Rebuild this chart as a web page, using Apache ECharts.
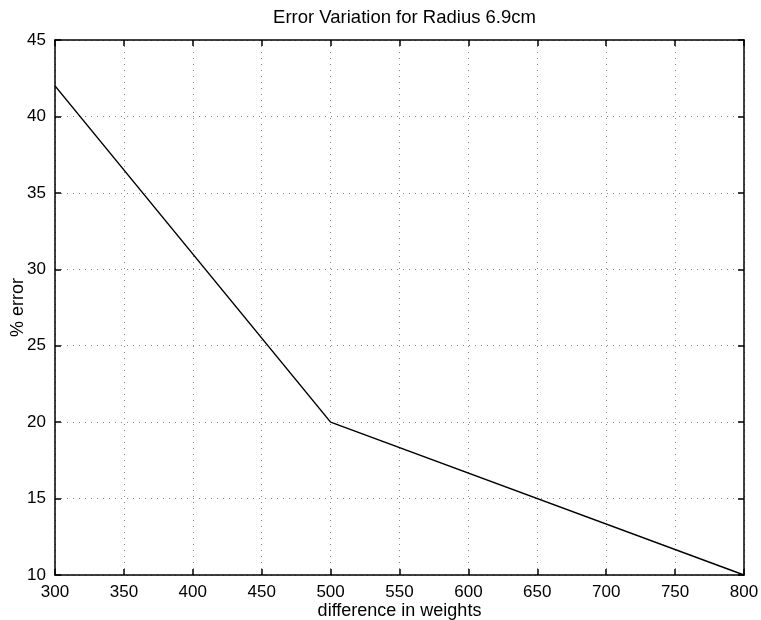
<!DOCTYPE html>
<html>
<head>
<meta charset="utf-8">
<script src="https://cdn.jsdelivr.net/npm/echarts@6/dist/echarts.min.js"></script>
<style>
  html, body { margin: 0; padding: 0; background: #fff; }
  #chart { width: 761px; height: 620px; }
</style>
</head>
<body>
<div id="chart"></div>
<script>
// Error vs weight difference
const weightDiff = [300, 500, 800];
const percentError = [42, 20, 10];
const xTicks = [300, 350, 400, 450, 500, 550, 600, 650, 700, 750, 800];
const yTicks = [10, 15, 20, 25, 30, 35, 40, 45];

const FONT = 'Liberation Sans, Arial, Helvetica, sans-serif';
const chart = echarts.init(document.getElementById('chart'));

const xMin = xTicks[0], xMax = xTicks[xTicks.length - 1];
const yMin = yTicks[0], yMax = yTicks[yTicks.length - 1];

const GRID = { left: 55, right: 17, top: 40, bottom: 45 };
const plotCenterX = GRID.left + (761 - GRID.left - GRID.right) / 2;

const boxAxis = {
  axisLine: { show: true, onZero: false, lineStyle: { color: '#000', width: 1.5 } },
  axisTick: { show: true, inside: true, length: 6, lineStyle: { color: '#000', width: 1.5 } },
};

chart.setOption({
  animation: false,
  backgroundColor: '#fff',
  title: {
    text: 'Error Variation for Radius 6.9cm',
    left: plotCenterX,
    textAlign: 'center',
    top: 3,
    textStyle: { fontFamily: FONT, fontSize: 18.5, fontWeight: 'normal', color: '#000' }
  },
  grid: Object.assign({ containLabel: false, outerBoundsMode: 'none' }, GRID),
  xAxis: [
    Object.assign({
      type: 'value', min: xMin, max: xMax, interval: 50, position: 'bottom',
      name: 'difference in weights', nameLocation: 'middle', nameGap: 27, nameMoveOverlap: false,
      nameTextStyle: { fontFamily: FONT, fontSize: 18, color: '#000' },
      axisLabel: { fontFamily: FONT, fontSize: 17, color: '#000', margin: 9 },
      splitLine: { show: true, lineStyle: { color: '#888', type: [1, 5], width: 1 } }
    }, boxAxis),
    Object.assign({
      type: 'value', min: xMin, max: xMax, interval: 50, position: 'top',
      axisLabel: { show: false }, splitLine: { show: false }
    }, boxAxis)
  ],
  yAxis: [
    Object.assign({
      type: 'value', min: yMin, max: yMax, interval: 5, position: 'left',
      name: '% error', nameLocation: 'middle', nameGap: 28, nameRotate: 90, nameMoveOverlap: false,
      nameTextStyle: { fontFamily: FONT, fontSize: 18, color: '#000' },
      axisLabel: { fontFamily: FONT, fontSize: 17, color: '#000', margin: 9 },
      splitLine: { show: true, lineStyle: { color: '#888', type: [1, 5], width: 1 } }
    }, boxAxis),
    Object.assign({
      type: 'value', min: yMin, max: yMax, interval: 5, position: 'right',
      axisLabel: { show: false }, splitLine: { show: false }
    }, boxAxis)
  ],
  series: [{
    type: 'line',
    data: weightDiff.map((x, i) => [x, percentError[i]]),
    showSymbol: false,
    lineStyle: { color: '#000', width: 1.5 },
    z: 5
  }]
});
</script>
</body>
</html>
